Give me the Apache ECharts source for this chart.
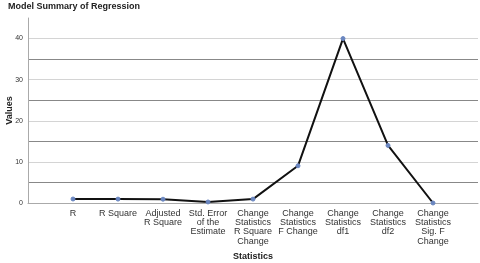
<!DOCTYPE html>
<html><head><meta charset="utf-8">
<script src="https://cdn.jsdelivr.net/npm/echarts@6/dist/echarts.min.js"></script>
<style>html,body{margin:0;padding:0;background:#fff}#c{width:480px;height:263px}</style>
</head><body><div id="c"></div>
<script>
const categories = ['R','R Square','Adjusted\nR Square','Std. Error\nof the\nEstimate','Change\nStatistics\nR Square\nChange','Change\nStatistics\nF Change','Change\nStatistics\ndf1','Change\nStatistics\ndf2','Change\nStatistics\nSig. F\nChange'];
const values = [0.97, 0.95, 0.92, 0.25, 0.95, 9.05, 40, 14, 0];
const yTicks = [0, 10, 20, 30, 40];

const axisData = [''].concat(categories).concat(['']);
const seriesData = [null].concat(values).concat([null]);
const font = 'Liberation Sans, Arial, sans-serif';

const chart = echarts.init(document.getElementById('c'), null, {renderer:'canvas'});
chart.setOption({
  animation: false,
  title: {text:'Model Summary of Regression', left:3, top:-3,
    textStyle:{fontFamily:font, fontSize:9, fontWeight:'bold', color:'#222'}},
  grid: {left:28, right:2, top:18, bottom:60, containLabel:false, outerBoundsMode:'none'},
  xAxis: {
    type:'category', data: axisData, boundaryGap:false,
    name:'Statistics', nameLocation:'middle', nameGap:49, nameMoveOverlap:false,
    nameTextStyle:{fontFamily:font, fontSize:9, fontWeight:'bold', color:'#222'},
    axisLine:{show:true, lineStyle:{color:'#aaa', width:1}},
    axisTick:{show:false},
    axisLabel:{interval:0, fontFamily:font, fontSize:9, color:'#333', lineHeight:9.2, margin:6},
    splitLine:{show:false}
  },
  yAxis: {
    type:'value', min:0, max:45, interval:5,
    name:'Values', nameLocation:'middle', nameGap:14, nameRotate:90, nameMoveOverlap:false,
    nameTextStyle:{fontFamily:font, fontSize:9, fontWeight:'bold', color:'#222'},
    axisLine:{show:true, lineStyle:{color:'#aaa', width:1}},
    axisTick:{show:false},
    axisLabel:{fontFamily:font, fontSize:7, color:'#333', margin:5, showMaxLabel:false,
      formatter: v => yTicks.indexOf(v) >= 0 ? String(v) : ''},
    splitLine:{show:true, showMaxLine:false, lineStyle:{color:['#d4d4d4','#888'], width:1}}
  },
  series: [{
    type:'line', data: seriesData, connectNulls:false,
    lineStyle:{color:'#111', width:2},
    symbol:'circle', symbolSize:4,
    itemStyle:{color:'#6a86c0', borderColor:'#6a86c0'},
    z:5
  }]
});
</script></body></html>
